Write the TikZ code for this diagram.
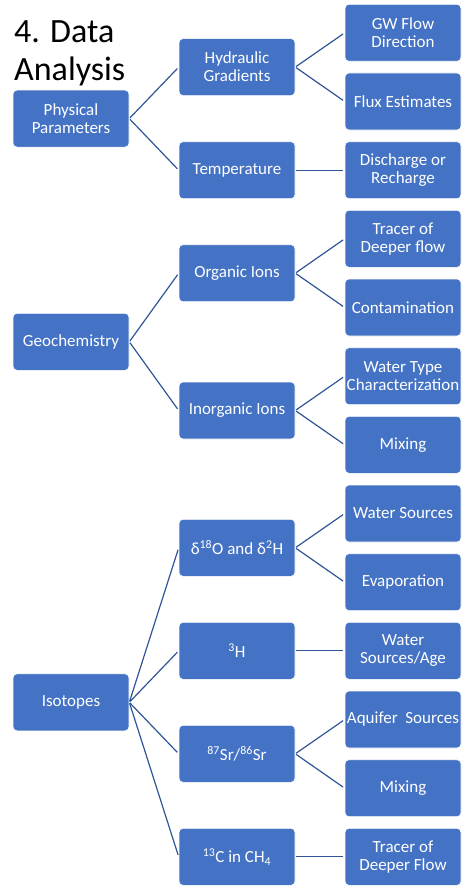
\documentclass[tikz,border=0pt]{standalone}
\usepackage{fontspec}
\setmainfont{Carlito}
\usepackage{xcolor}
\usepackage{tikz}
\definecolor{boxblue}{HTML}{4472C4}
\definecolor{linkblue}{HTML}{2F5597}

\begin{document}
\begin{tikzpicture}[x=1pt, y=-1pt,
    box/.style={rectangle, rounded corners=4pt, fill=boxblue, draw=white, line width=0.6pt,
        minimum width=116pt, minimum height=57pt, inner sep=0pt, align=center, text=white,
        font=\fontsize{17}{18}\selectfont},
    link/.style={draw=linkblue, line width=1.2pt, shorten <=1pt, shorten >=2pt}]
    \useasboundingbox (0,0) rectangle (467,888);

    \node[anchor=north west, align=left, inner sep=0pt, font=\fontsize{34}{38}\selectfont] (title) at (14,20.5) {4. Data\\Analysis};

    % first level
    \node[box] (phys) at (71,118.6) {Physical\\Parameters};
    \node[box] (geo) at (71,341.8) {Geochemistry};
    \node[box] (iso) at (71,702.3) {Isotopes};

    % second level
    \node[box] (hyd) at (237,67.1) {Hydraulic\\Gradients};
    \node[box] (temp) at (237,170.2) {Temperature};
    \node[box] (org) at (237,273.2) {Organic Ions};
    \node[box] (inorg) at (237,410.5) {Inorganic Ions};
    \node[box] (delta) at (237,547.8) {δ\textsuperscript{18}O and δ\textsuperscript{2}H};
    \node[box] (trit) at (237,650.8) {\textsuperscript{3}H};
    \node[box] (sr) at (237,753.8) {\textsuperscript{87}Sr/\textsuperscript{86}Sr};
    \node[box] (carb) at (237,856.8) {\textsuperscript{13}C in CH\textsubscript{4}};

    % third level
    \node[box] (gw) at (403,32.8) {GW Flow\\Direction};
    \node[box] (flux) at (403,101.5) {Flux Estimates};
    \node[box] (dis) at (403,170.2) {Discharge or\\Recharge};
    \node[box] (trace) at (403,238.8) {Tracer of\\Deeper flow};
    \node[box] (cont) at (403,307.5) {Contamination};
    \node[box] (wtype) at (403,376.2) {Water Type\\Characterization};
    \node[box] (mixa) at (403,444.8) {Mixing};
    \node[box] (wsrc) at (403,513.5) {Water Sources};
    \node[box] (evap) at (403,582.2) {Evaporation};
    \node[box] (wage) at (403,650.8) {Water\\Sources/Age};
    \node[box] (aqui) at (403,719.5) {Aquifer~ Sources};
    \node[box] (mixb) at (403,788.2) {Mixing};
    \node[box] (deep) at (403,856.8) {Tracer of\\Deeper Flow};

    \foreach \a/\b in {phys/hyd, phys/temp, geo/org, geo/inorg, iso/delta, iso/trit, iso/sr, iso/carb,
        hyd/gw, hyd/flux, temp/dis, org/trace, org/cont, inorg/wtype, inorg/mixa,
        delta/wsrc, delta/evap, trit/wage, sr/aqui, sr/mixb, carb/deep}
        \draw[link] (\a.east) -- (\b.west);
\end{tikzpicture}
\end{document}
